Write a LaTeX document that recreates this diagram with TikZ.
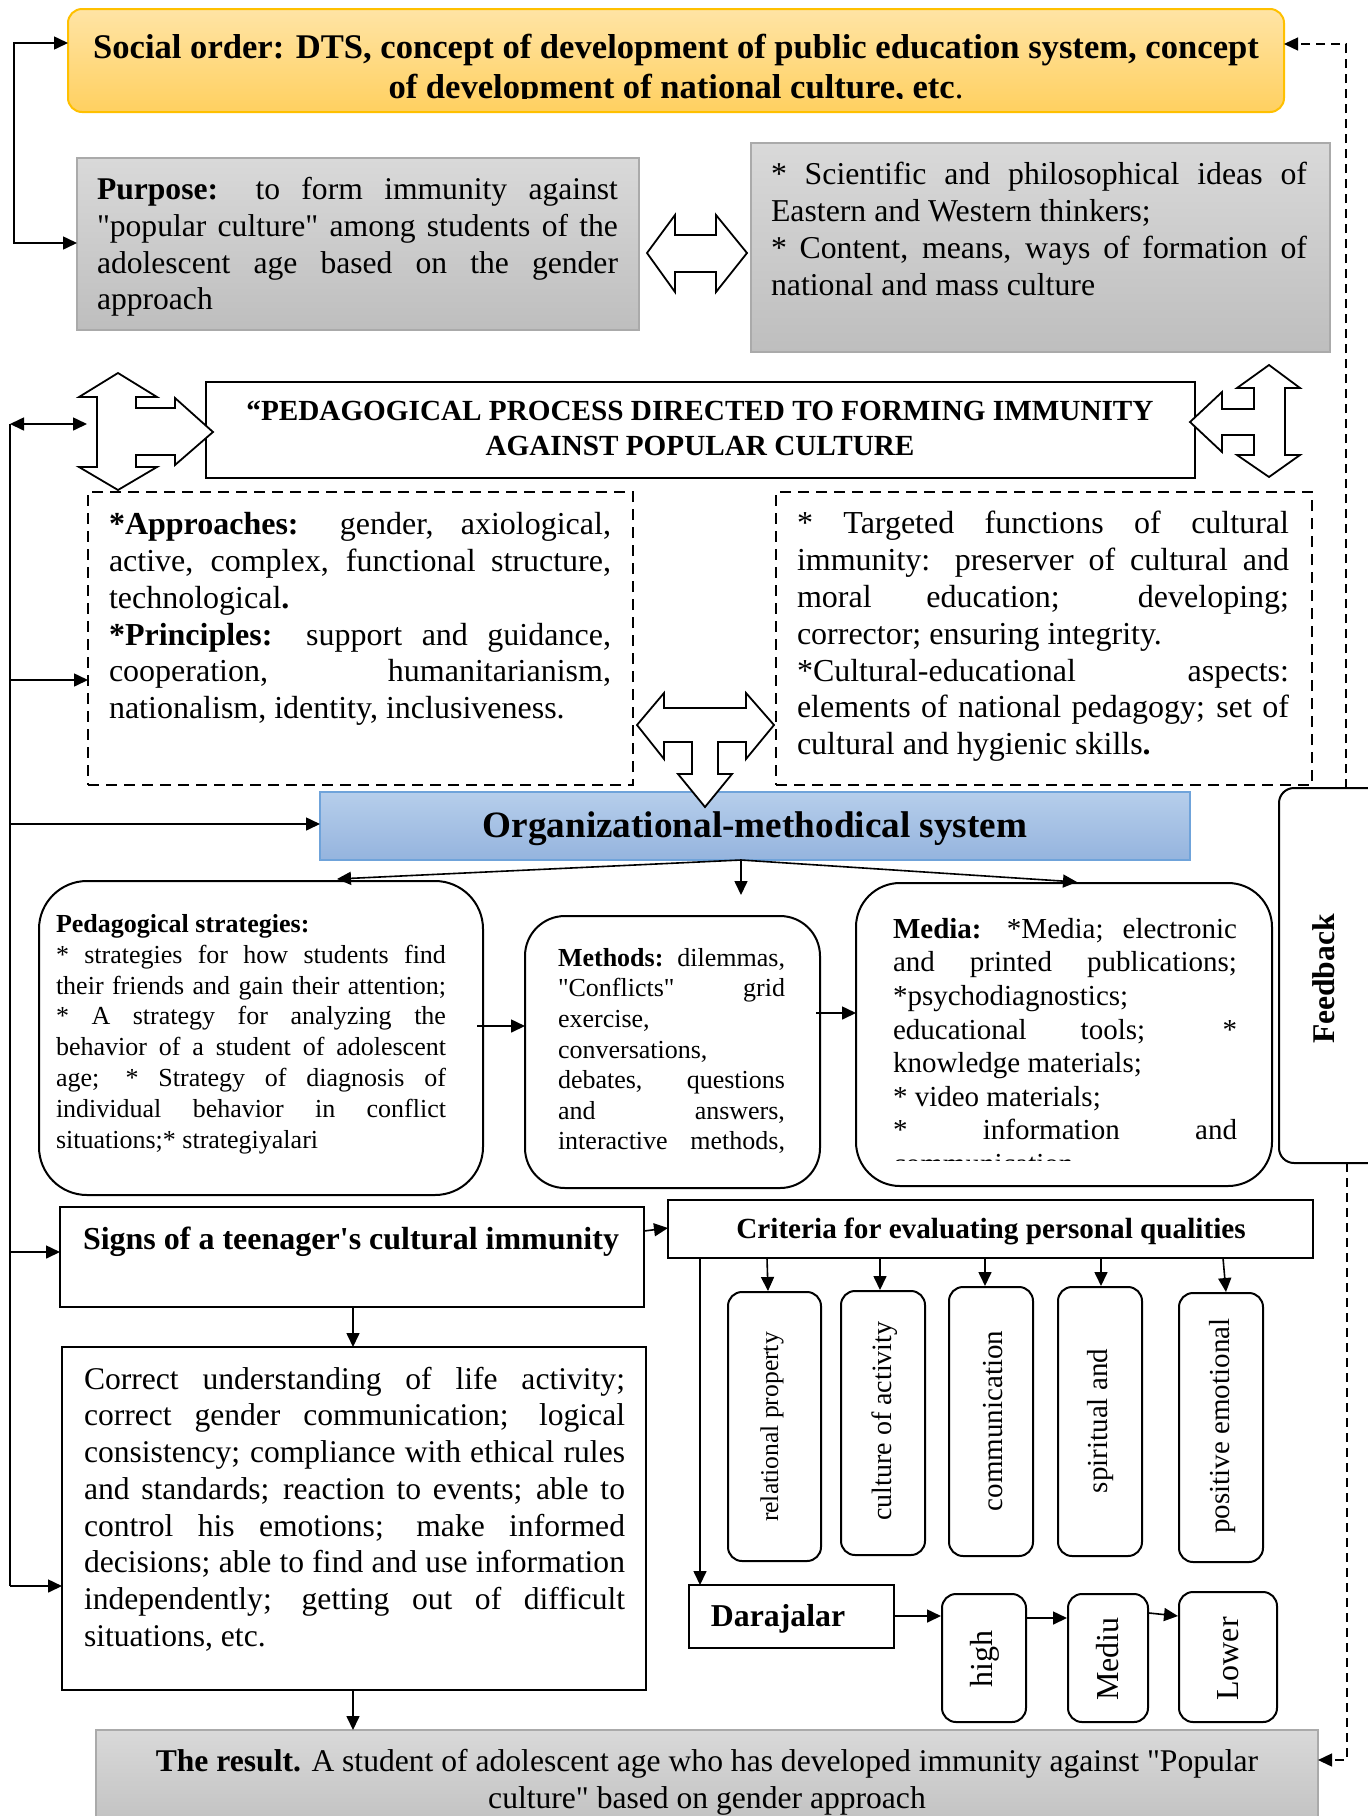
\documentclass[tikz,border=0pt]{standalone}
\usepackage{fontspec}
\setmainfont{Liberation Serif}
\usetikzlibrary{arrows.meta,fit}
\setlength{\parindent}{0pt}
% normal (stretchable) word spaces inside ragged nodes
\newcommand{\resetsp}{\spaceskip=0pt\xspaceskip=0pt\relax}
% one justified line of exactly the text width
\newcommand{\jl}[1]{\leavevmode\hbox to \hsize{\resetsp#1}}
\newcommand{\setfs}[2]{\fontsize{#1}{#2}\selectfont}
% straight quotation marks taken directly from the font
\newcommand{\dq}{\XeTeXglyph\XeTeXcharglyph"22\relax}
\newcommand{\sq}{\XeTeXglyph\XeTeXcharglyph"27\relax}
\definecolor{sunTop}{RGB}{255,228,165}
\definecolor{sunBot}{RGB}{255,208,96}
\definecolor{sunEdge}{RGB}{255,192,0}
\definecolor{greyTop}{RGB}{217,217,217}
\definecolor{greyBot}{RGB}{190,190,190}
\definecolor{greyEdge}{RGB}{170,170,170}
\definecolor{blueTop}{RGB}{182,206,235}
\definecolor{blueBot}{RGB}{149,180,222}
\definecolor{blueEdge}{RGB}{111,163,218}
\begin{document}
\begin{tikzpicture}[x=0.5pt,y=-0.5pt,
  tip/.tip={Triangle[length=7pt,width=6.5pt]},
  conn/.style={line width=0.8pt,-tip},
  dconn/.style={line width=0.8pt,tip-tip},
  plain/.style={line width=0.8pt},
  fb/.style={line width=0.7pt,dash pattern=on 4.5pt off 3pt,-tip},
  box/.style={draw,line width=1pt,inner sep=0pt},
  dbox/.style={draw,line width=1.2pt,dash pattern=on 5.5pt off 3.5pt,inner sep=0pt},
  rbox/.style={box,rounded corners=#1},
  greybox/.style={inner sep=0pt,draw=greyEdge,line width=1pt,top color=greyTop,bottom color=greyBot},
  blockarrow/.style={draw,line width=0.9pt,fill=white,line join=miter},
  txt/.style={inner sep=0pt,align=left},
  ctr/.style={inner sep=0pt,align=center},
]
\useasboundingbox[fill=white] (0,0) rectangle (1367,1816);

% ---------- boxes ----------
\node[inner sep=0pt,draw=sunEdge,line width=1pt,rounded corners=7pt,top color=sunTop,bottom color=sunBot,fit={(68,9) (1284,112)}] (social) {};
\node[greybox,fit={(77,158) (639,330)}] (purpose) {};
\node[greybox,fit={(751,143) (1330,352)}] (ideas) {};
\node[box,fit={(206,382) (1195,478)}] (process) {};
\node[dbox,fit={(88,492) (633,785)}] (approach) {};
\node[dbox,fit={(776,492) (1312,785)}] (functions) {};
\node[inner sep=0pt,draw=blueEdge,line width=0.8pt,top color=blueTop,bottom color=blueBot,fit={(320,792) (1190,860)}] (org) {};
\node[rbox=24pt,fit={(39,881) (483,1195)}] (strat) {};
\node[rbox=20pt,fit={(525,916) (820,1188)}] (methods) {};
\node[rbox=22pt,fit={(856,883) (1272,1186)}] (media) {};
\node[rbox=7.5pt,fit={(1279,788) (1400,1163)}] (feedback) {};
\node[box,fit={(60,1207) (644,1307)}] (signs) {};
\node[box,fit={(62,1347) (646,1690)}] (correct) {};
\node[box,fit={(668,1200) (1313,1258)}] (criteria) {};
\node[rbox=7pt,fit={(728,1292) (821,1561)}] (c1) {};
\node[rbox=7pt,fit={(841,1291) (925,1555)}] (c2) {};
\node[rbox=7pt,fit={(949,1287) (1033,1556)}] (c3) {};
\node[rbox=7pt,fit={(1058,1287) (1142,1556)}] (c4) {};
\node[rbox=7pt,fit={(1179,1293) (1263,1562)}] (c5) {};
\node[box,fit={(689,1585) (894,1648)}] (levels) {};
\node[rbox=7pt,fit={(942,1594) (1026,1722)}] (high) {};
\node[rbox=7pt,fit={(1068,1594) (1148,1722)}] (medium) {};
\node[rbox=7pt,fit={(1179,1592) (1277,1722)}] (lower) {};
\node[greybox,fit={(96,1730) (1318,1840)}] (result) {};

% ---------- texts ----------
\begin{scope}
  \clip (68,9) rectangle (1284,98);
  \node[ctr,font=\setfs{17.3pt}{20pt}\bfseries] (socialtxt) at (676,69.5)
    {Social order: DTS, concept of development of public education system, concept\\
     of development of national culture, etc\textmd{.}};
\end{scope}

\node[txt,text width=260.5pt,font=\setfs{15.8pt}{18.3pt}] (purposetxt) at (357.5,247)
  {\resetsp
   \jl{\textbf{Purpose:} to form immunity against}\\
   \jl{\dq popular culture\dq{} among students of the}\\
   \jl{adolescent age based on the gender}\\
   approach};

\node[txt,text width=268pt,font=\setfs{15.9pt}{18.5pt}] (ideastxt) at (1039,229)
  {\resetsp
   \jl{* Scientific and philosophical ideas of}\\
   Eastern and Western thinkers;\\
   \jl{* Content, means, ways of formation of}\\
   national and mass culture};

\node[ctr,font=\setfs{14.6pt}{17.4pt}\bfseries] (processtxt) at (700,428.5)
  {“PEDAGOGICAL PROCESS DIRECTED TO FORMING IMMUNITY\\AGAINST POPULAR CULTURE};

\node[txt,text width=251pt,font=\setfs{16pt}{18.4pt}] (approachtxt) at (360,619)
  {\resetsp
   \jl{\textbf{*Approaches:} gender, axiological,}\\
   \jl{active, complex, functional structure,}\\
   technological\textbf{.}\\
   \jl{\textbf{*Principles:} support and guidance,}\\
   \jl{cooperation, humanitarianism,}\\
   nationalism, identity, inclusiveness.};

\node[txt,text width=246pt,font=\setfs{16pt}{18.4pt}] (functionstxt) at (1043,636.5)
  {\resetsp
   \jl{* Targeted functions of cultural}\\
   \jl{immunity: preserver of cultural and}\\
   \jl{moral education; developing;}\\
   corrector; ensuring integrity.\\
   \jl{*Cultural-educational aspects:}\\
   \jl{elements of national pedagogy; set of}\\
   cultural and hygienic skills\textbf{.}};

\node[ctr,font=\fontsize{18.6pt}{21pt}\selectfont\bfseries] (orgtxt) at (755,829) {Organizational-methodical system};

\node[txt,text width=195pt,font=\setfs{13pt}{15.4pt}] (strattxt) at (251,1034)
  {\resetsp
   \textbf{Pedagogical strategies:}\\
   \jl{* strategies for how students find}\\
   \jl{their friends and gain their attention;}\\
   \jl{* A strategy for analyzing the}\\
   \jl{behavior of a student of adolescent}\\
   \jl{age; * Strategy of diagnosis of}\\
   \jl{individual behavior in conflict}\\
   situations;* strategiyalari};

\node[txt,text width=113.5pt,font=\setfs{13pt}{15.3pt}] (methodstxt) at (671.5,1051)
  {\resetsp
   \jl{\textbf{Methods:} dilemmas,}\\
   \jl{\dq Conflicts\dq{} grid}\\
   exercise,\\
   conversations,\\
   \jl{debates, questions}\\
   \jl{and answers,}\\
   \jl{interactive methods,}};

\begin{scope}
  \clip (856,883) rectangle (1272,1160);
  \node[txt,text width=172pt,font=\setfs{14.5pt}{16.8pt}] (mediatxt) at (1065,1046)
    {\resetsp
     \jl{\textbf{Media:} *Media; electronic}\\
     \jl{and printed publications;}\\\relax
     *psychodiagnostics;\\
     \jl{educational tools; *}\\
     knowledge materials;\\\relax
     * video materials;\\
     \jl{* information and}\\
     communication};
\end{scope}

\node[ctr,rotate=90,font=\fontsize{15.8pt}{18pt}\selectfont\bfseries] (feedbacktxt) at (1324,979) {Feedback};

\node[ctr,font=\fontsize{16pt}{18pt}\selectfont\bfseries] (signstxt) at (351,1241.5) {Signs of a teenager\sq s cultural immunity};

\node[txt,text width=270.5pt,font=\setfs{15.8pt}{18.35pt}] (correcttxt) at (354.5,1509)
  {\resetsp
   \jl{Correct understanding of life activity;}\\
   \jl{correct gender communication; logical}\\
   \jl{consistency; compliance with ethical rules}\\
   \jl{and standards; reaction to events; able to}\\
   \jl{control his emotions; make informed}\\
   \jl{decisions; able to find and use information}\\
   \jl{independently; getting out of difficult}\\
   situations, etc.};

\node[ctr,font=\fontsize{14.6pt}{17pt}\selectfont\bfseries] (criteriatxt) at (991,1231.5) {Criteria for evaluating personal qualities};

\node[ctr,rotate=90,font=\fontsize{12.8pt}{15pt}\selectfont] (c1txt) at (772,1427) {relational property};
\node[ctr,rotate=90,font=\fontsize{14pt}{16pt}\selectfont] (c2txt) at (885,1421) {culture of activity};
\node[ctr,rotate=90,font=\fontsize{14.5pt}{16pt}\selectfont] (c3txt) at (993,1421) {communication};
\node[ctr,rotate=90,font=\fontsize{14.5pt}{16pt}\selectfont] (c4txt) at (1101,1421) {spiritual and};
\node[ctr,rotate=90,font=\fontsize{14.5pt}{16pt}\selectfont] (c5txt) at (1223,1426) {positive emotional};

\node[ctr,font=\fontsize{15.9pt}{18pt}\selectfont\bfseries] (levelstxt) at (778,1618.5) {Darajalar};
\node[ctr,rotate=90,font=\fontsize{16pt}{18pt}\selectfont] (hightxt) at (985,1659) {high};
\node[ctr,rotate=90,font=\fontsize{16pt}{18pt}\selectfont] (mediumtxt) at (1108,1659) {Mediu};
\node[ctr,rotate=90,font=\fontsize{16pt}{18pt}\selectfont] (lowertxt) at (1228,1659) {Lower};

\node[ctr,font=\setfs{15.8pt}{18.5pt}] (resulttxt) at (707,1782)
  {\textbf{The result.} A student of adolescent age who has developed immunity against \dq Popular\\
   culture\dq{} based on gender approach};

% ---------- block arrows ----------
\draw[blockarrow] (647,253) -- (675,215) -- (675,235) -- (716,235) -- (716,215) -- (747,253)
  -- (716,292) -- (716,272) -- (675,272) -- (675,292) -- cycle;
\draw[blockarrow] (118,373) -- (157,397) -- (136,397) -- (136,408) -- (175,408) -- (175,398)
  -- (213,432) -- (175,465) -- (175,455) -- (136,455) -- (136,467) -- (157,467) -- (118,490)
  -- (79,467) -- (97,467) -- (97,397) -- (79,397) -- cycle;
\draw[blockarrow] (1269,365) -- (1300,388) -- (1285,388) -- (1285,455) -- (1300,455) -- (1269,477)
  -- (1237,455) -- (1254,455) -- (1254,435) -- (1222,435) -- (1222,452) -- (1190,422)
  -- (1222,392) -- (1222,409) -- (1254,409) -- (1254,388) -- (1237,388) -- cycle;
\draw[blockarrow] (637,725) -- (664,693) -- (664,708) -- (746,708) -- (746,693) -- (774,725)
  -- (746,759) -- (746,742) -- (718,742) -- (718,774) -- (732,774) -- (705,807) -- (678,774)
  -- (692,774) -- (692,742) -- (664,742) -- (664,759) -- cycle;

% ---------- connector end points ----------
\coordinate (socialW) at (68,43);
\coordinate (purposeW) at (77,243);
\coordinate (socialE) at (1284,44);
\coordinate (fbN) at (1346,788);
\coordinate (fbS) at (1347,1163);
\coordinate (resultE) at (1318,1760);
\coordinate (railTop) at (10,424);
\coordinate (railBot) at (10,1586);
\coordinate (crossW) at (87,424);
\coordinate (approachW) at (88,680);
\coordinate (orgW) at (320,824);
\coordinate (signsW) at (60,1252);
\coordinate (correctW) at (62,1586);
\coordinate (hub) at (741,860);
\coordinate (stratN) at (337,879);
\coordinate (methodsN) at (741,895);
\coordinate (mediaN) at (1077,882);
\coordinate (stratE) at (477,1026);
\coordinate (methodsW) at (525,1026);
\coordinate (methodsE) at (816,1013);
\coordinate (mediaW) at (856,1013);
\coordinate (signsE) at (644,1231);
\coordinate (criteriaW) at (668,1228);
\coordinate (signsS) at (353,1307);
\coordinate (correctN) at (353,1347);
\coordinate (correctS) at (353,1690);
\coordinate (resultN) at (353,1730);
\coordinate (critSW) at (700,1258);
\coordinate (levelsN) at (700,1585);

% ---------- connectors ----------
\draw[dconn] (socialW) -- ++(-54,0) |- (purposeW);
\draw[fb] (fbN) |- (socialE);
\draw[fb] (fbS) |- (resultE);

\draw[plain] (railTop) -- (railBot);
\draw[dconn] (railTop) -- (crossW);
\draw[conn] (railTop |- approachW) -- (approachW);
\draw[conn] (railTop |- orgW) -- (orgW);
\draw[conn] (railTop |- signsW) -- (signsW);
\draw[conn] (railBot) -- (correctW);

\draw[conn] (hub) -- (stratN);
\draw[conn] (hub) -- (methodsN);
\draw[conn] (hub) -- (mediaN);
\draw[conn] (stratE) -- (methodsW);
\draw[conn] (methodsE) -- (mediaW);

\draw[conn] (signsE) -- (criteriaW);
\draw[conn] (signsS) -- (correctN);
\draw[conn] (correctS) -- (resultN);
\draw[conn] (critSW) -- (levelsN);

\draw[conn] (767,1258) -- (c1.north -| 768,0);
\draw[conn] (880,1258) -- (c2.north -| 880,0);
\draw[conn] (985,1258) -- (c3.north -| 985,0);
\draw[conn] (1101,1258) -- (c4.north -| 1101,0);
\draw[conn] (1223,1258) -- (c5.north -| 1226,0);

\draw[conn] (levels.east |- 0,1616) -- (high.west |- 0,1616);
\draw[conn] (high.east |- 0,1618) -- (medium.west |- 0,1618);
\draw[conn] (medium.east |- 0,1613) -- (lower.west |- 0,1616);
\end{tikzpicture}
\end{document}
